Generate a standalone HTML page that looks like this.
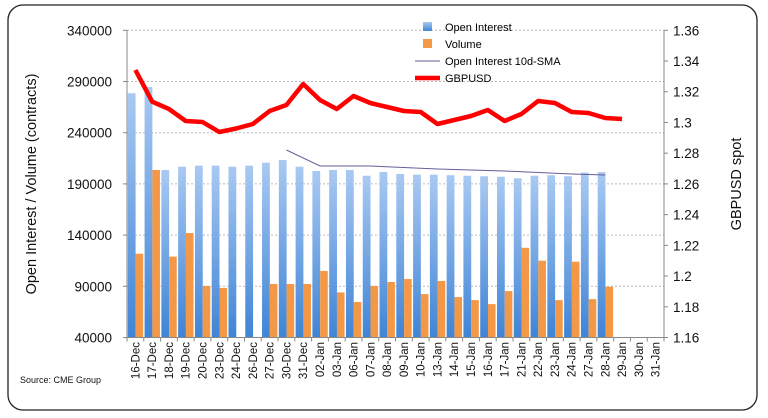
<!DOCTYPE html>
<html><head><meta charset="utf-8"><style>
body{margin:0;background:#fff;}
svg{display:block;font-family:"Liberation Sans",sans-serif;}
</style></head><body>
<svg id="c" width="768" height="418" viewBox="0 0 768 418" xmlns="http://www.w3.org/2000/svg">
<defs>
<linearGradient id="bg" x1="0" y1="0" x2="0" y2="1">
<stop offset="0" stop-color="#a9c9f2"/><stop offset="1" stop-color="#3f84d6"/>
</linearGradient>
</defs>
<rect x="8" y="5" width="749" height="405" rx="15" fill="#fff" stroke="#222" stroke-width="1.3"/>
<g id="g"></g>
</svg>
<script>
const g=document.getElementById('g');let s='';
const L=127,R=664,T=30.3,B=337.5,n=32,cw=(R-L)/n;
const yl=v=>T+(340000-v)/50000*51.2;
const labels=["16-Dec","17-Dec","18-Dec","19-Dec","20-Dec","23-Dec","24-Dec","26-Dec","27-Dec","30-Dec","31-Dec","02-Jan","03-Jan","06-Jan","07-Jan","08-Jan","09-Jan","10-Jan","13-Jan","14-Jan","15-Jan","16-Jan","17-Jan","21-Jan","22-Jan","23-Jan","24-Jan","27-Jan","28-Jan","29-Jan","30-Jan","31-Jan"];
const oi=[278500,284600,203600,206800,207800,207800,206800,207800,210700,213300,206800,202600,203600,203600,198000,201600,199700,199000,199000,198500,198000,197500,197000,195500,198000,198500,197500,201000,201500];
const vol=[121800,203600,119000,142000,90300,88400,0,0,92300,92300,92300,105000,84000,74700,90300,94200,97100,82400,95200,79500,76500,72600,85300,127600,115000,76500,114000,77500,89600];
const gb=[70,101.7,109,121,122,132,128.5,124,111,105,84,100,109,96,103,107,111,112,124,120,116,110,121,114,101,103,112,113,118,119];
// gridlines
for(let i=0;i<=6;i++){const y=T+i*51.2;
 if(i<6)s+=`<line x1="${L}" x2="${R}" y1="${y}" y2="${y}" stroke="#bbb" stroke-dasharray="2,2"/>`;
 s+=`<text x="112" y="${y+5}" font-size="13.5" text-anchor="end" fill="#111">${340000-i*50000}</text>`;
 s+=`<line x1="${L-4}" x2="${L}" y1="${y}" y2="${y}" stroke="#888"/>`;}
for(let i=0;i<=10;i++){const y=T+i*30.72;const v=(1.36-i*0.02);
 let t=v.toFixed(2).replace(/0$/,'').replace(/\.$/,'');
 s+=`<text x="673" y="${y+5}" font-size="13.5" fill="#111">${t}</text>`;
 s+=`<line x1="${R}" x2="${R+4}" y1="${y}" y2="${y}" stroke="#888"/>`;}
// bars
oi.forEach((v,i)=>{const x=L+i*cw;const y=yl(v);s+=`<rect x="${x+0.8}" y="${y}" width="${cw/2-0.6}" height="${B-y}" fill="url(#bg)"/>`;});
vol.forEach((v,i)=>{if(!v)return;const x=L+i*cw+cw/2+0.2;const y=yl(v);s+=`<rect x="${x}" y="${y}" width="${cw/2-0.8}" height="${B-y}" fill="#f39847"/>`;});
// axes
s+=`<line x1="${L}" x2="${L}" y1="${T}" y2="${B}" stroke="#888"/><line x1="${R}" x2="${R}" y1="${T}" y2="${B}" stroke="#888"/><line x1="${L-4}" x2="${R}" y1="${B}" y2="${B}" stroke="#888"/>`;
for(let i=0;i<=n;i++){const x=L+i*cw;s+=`<line x1="${x}" x2="${x}" y1="${B}" y2="${B+4}" stroke="#888"/>`;}
labels.forEach((l,i)=>{const x=L+(i+0.5)*cw+4;s+=`<text transform="translate(${x},342) rotate(-90)" font-size="11.5" text-anchor="end" fill="#111">${l}</text>`;});
// SMA
const sma=[[9,150],[11,166],[14,166],[18,169],[22,171],[26,174],[28,175]];
s+=`<polyline fill="none" stroke="#6a5c9a" stroke-width="1" points="${sma.map(p=>(L+(p[0]+0.5)*cw)+','+p[1]).join(' ')}"/>`;
s+=`<polyline fill="none" stroke="#f00" stroke-width="4.5" stroke-linejoin="round" points="${gb.map((y,i)=>(L+(i+0.5)*cw)+','+y).join(' ')}"/>`;
// legend
s+=`<rect x="423" y="22" width="9" height="9" fill="url(#bg)"/><text x="445" y="31" font-size="11">Open Interest</text>`;
s+=`<rect x="423" y="39" width="9" height="9" fill="#f39847"/><text x="445" y="48" font-size="11">Volume</text>`;
s+=`<line x1="415" x2="440" y1="61" y2="61" stroke="#6a5c9a"/><text x="445" y="65" font-size="11">Open Interest 10d-SMA</text>`;
s+=`<line x1="415" x2="440" y1="78" y2="78" stroke="#f00" stroke-width="4.5"/><text x="445" y="82" font-size="11">GBPUSD</text>`;
s+=`<text transform="translate(36,184) rotate(-90)" font-size="14.5" text-anchor="middle" fill="#111">Open Interest / Volume (contracts)</text>`;
s+=`<text transform="translate(741,184) rotate(-90)" font-size="14.5" text-anchor="middle" fill="#111">GBPUSD spot</text>`;
s+=`<text x="20" y="383" font-size="9" fill="#111">Source: CME Group</text>`;
g.innerHTML=s;
</script>
</body></html>
